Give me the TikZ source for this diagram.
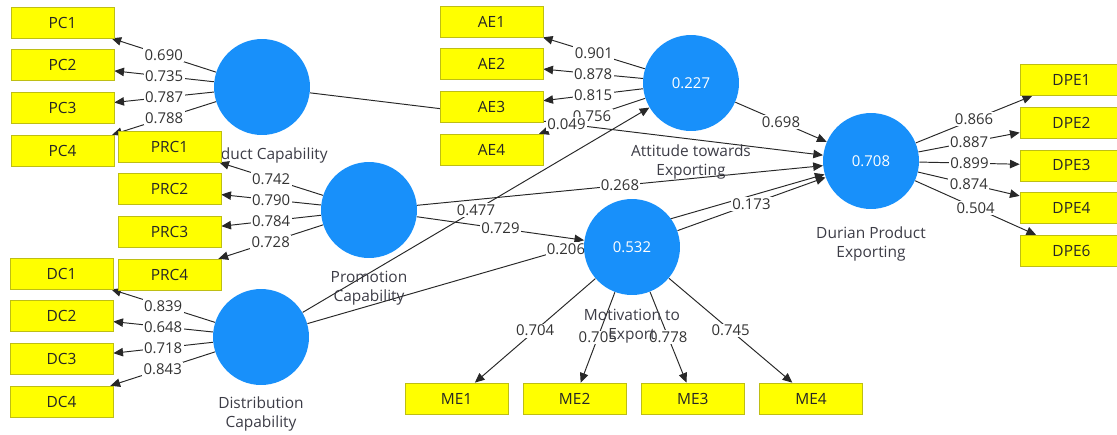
\documentclass[tikz,border=0pt]{standalone}
\usepackage{fontspec}
\setmainfont{Open Sans}
\definecolor{lvblue}{RGB}{24,144,250}
\definecolor{indyellow}{RGB}{255,255,0}
\definecolor{indborder}{RGB}{190,190,20}
\definecolor{pathgray}{RGB}{40,40,40}
\definecolor{namegray}{RGB}{60,60,70}
\usetikzlibrary{
  arrows.meta,
  backgrounds,
  positioning,
}
\tikzset{
  >={Triangle[length=5.5pt,width=4.8pt]},
  latent/.style={circle,fill=lvblue,minimum size=1.92cm,inner sep=0pt,text=white,font=\fontsize{8.5}{10}\selectfont},
  indicator/.style={draw=indborder,fill=indyellow,rectangle,minimum width=2.06cm,minimum height=0.62cm,inner sep=0pt,text=black!85,font=\fontsize{8.8}{10}\selectfont},
  lvname/.style={align=center,inner sep=0pt,text=namegray,font=\fontsize{8.8}{10.8}\selectfont},
  weight/.style={fill=white,inner sep=0.8pt,text=black!80,font=\fontsize{8.5}{10}\selectfont},
  link/.style={->,draw=pathgray,line width=0.55pt},
}

\begin{document}
\begin{tikzpicture}[x=0.02cm,y=-0.02cm,node distance=0.22cm]
    \useasboundingbox (0,0) rectangle (1117,434);

        % constructs
        \node[latent]    (pc)  at (262,87)  {};
        \node[latent]    (prc) at (369,210) {};
        \node[latent]    (dc)  at (261,337) {};
        \node[latent]    (ae)  at (691,83)  {0.227};
        \node[latent]    (me)  at (632,247) {0.532};
        \node[latent]    (dpe) at (871,161) {0.708};

        \node[lvname,below=0.25cm of pc]  (pcname)  {Product Capability};
        \node[lvname,below=0.25cm of prc] (prcname) {Promotion\\Capability};
        \node[lvname,below=0.23cm of dc]  (dcname)  {Distribution\\Capability};
        \node[lvname,below=0.27cm of ae]  (aename)  {Attitude towards\\Exporting};
        \node[lvname,below=0.27cm of me]  (mename)  {Motivation to\\Export};
        \node[lvname,below=0.34cm of dpe] (dpename) {Durian Product\\Exporting};

        % indicators
        \node[indicator]    (pc1)  at (62.5,22.5)     {PC1};
        \node[indicator]    (pc2)  [below=of pc1]     {PC2};
        \node[indicator]    (pc3)  [below=of pc2]     {PC3};
        \node[indicator]    (pc4)  [below=of pc3]     {PC4};
        \node[indicator]    (prc1) at (169.5,146.5)   {PRC1};
        \node[indicator]    (prc2) [below=of prc1]    {PRC2};
        \node[indicator]    (prc3) [below=of prc2]    {PRC3};
        \node[indicator]    (prc4) [below=of prc3]    {PRC4};
        \node[indicator]    (dc1)  at (61.5,273.5)    {DC1};
        \node[indicator]    (dc2)  [below=of dc1]     {DC2};
        \node[indicator]    (dc3)  [below=of dc2]     {DC3};
        \node[indicator]    (dc4)  [below=of dc3]     {DC4};
        \node[indicator]    (ae1)  at (491.5,21.5)    {AE1};
        \node[indicator]    (ae2)  [below=of ae1]     {AE2};
        \node[indicator]    (ae3)  [below=of ae2]     {AE3};
        \node[indicator]    (ae4)  [below=of ae3]     {AE4};
        \node[indicator]    (me1)  at (456.5,398.5)   {ME1};
        \node[indicator]    (me2)  [right=0.29cm of me1] {ME2};
        \node[indicator]    (me3)  [right=0.29cm of me2] {ME3};
        \node[indicator]    (me4)  [right=0.29cm of me3] {ME4};
        \node[indicator]    (dpe1) at (1071.5,80)     {DPE1};
        \node[indicator]    (dpe2) [below=of dpe1]    {DPE2};
        \node[indicator]    (dpe3) [below=of dpe2]    {DPE3};
        \node[indicator]    (dpe4) [below=of dpe3]    {DPE4};
        \node[indicator]    (dpe6) [below=of dpe4]    {DPE6};

        \begin{pgfonlayer}{background}
        % outer loadings
        \draw[link] (pc) -- node[weight] {0.690} (pc1);
        \draw[link] (pc) -- node[weight] {0.735} (pc2);
        \draw[link] (pc) -- node[weight] {0.787} (pc3);
        \draw[link] (pc) -- node[weight] {0.788} (pc4);
        \draw[link] (prc) -- node[weight] {0.742} (prc1);
        \draw[link] (prc) -- node[weight] {0.790} (prc2);
        \draw[link] (prc) -- node[weight] {0.784} (prc3);
        \draw[link] (prc) -- node[weight] {0.728} (prc4);
        \draw[link] (dc) -- node[weight] {0.839} (dc1);
        \draw[link] (dc) -- node[weight] {0.648} (dc2);
        \draw[link] (dc) -- node[weight] {0.718} (dc3);
        \draw[link] (dc) -- node[weight] {0.843} (dc4);
        \draw[link] (ae) -- node[weight] {0.901} (ae1);
        \draw[link] (ae) -- node[weight] {0.878} (ae2);
        \draw[link] (ae) -- node[weight] {0.815} (ae3);
        \draw[link] (ae) -- node[weight] {0.756} (ae4);
        \draw[link] (me) -- node[weight] {0.704} (me1);
        \draw[link] (me) -- node[weight] {0.705} (me2);
        \draw[link] (me) -- node[weight] {0.778} (me3);
        \draw[link] (me) -- node[weight] {0.745} (me4);
        \draw[link] (dpe) -- node[weight] {0.866} (dpe1);
        \draw[link] (dpe) -- node[weight] {0.887} (dpe2);
        \draw[link] (dpe) -- node[weight] {0.899} (dpe3);
        \draw[link] (dpe) -- node[weight] {0.874} (dpe4);
        \draw[link] (dpe) -- node[weight] {0.504} (dpe6);

        % path coefficients
        \draw[link] (prc) -- node[weight] {0.268} (dpe);
        \draw[link] (dc) -- node[weight] {0.477} (ae);
        \draw[link] (prc) -- node[weight] {0.729} (me);
        \draw[link] (dc) -- node[weight] {0.206} (dpe);
        \draw[link] (pc) -- node[weight] {0.049} (dpe);
        \draw[link] (me) -- node[weight] {0.173} (dpe);
        \draw[link] (ae) -- node[weight] {0.698} (dpe);
        \end{pgfonlayer}

    \end{tikzpicture}
\end{document}
